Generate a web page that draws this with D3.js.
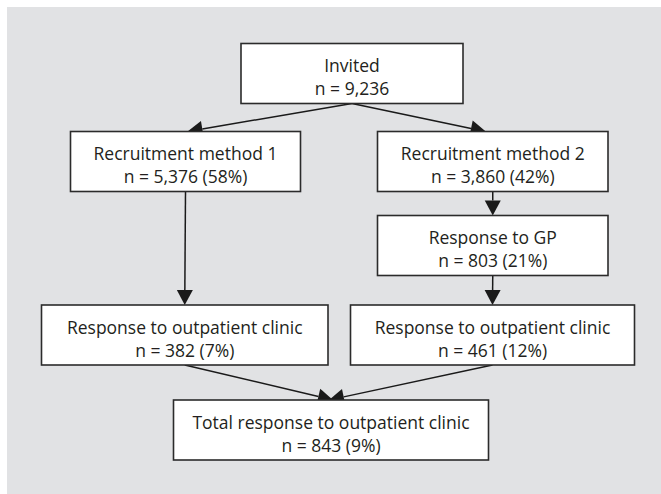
<!DOCTYPE html>
<html>
<head>
<meta charset="utf-8">
<script src="https://cdn.jsdelivr.net/npm/d3@7"></script>
<style>
  html, body { margin: 0; padding: 0; background: #fff; }
  svg { display: block; }
  .box { fill: #fff; stroke: #2b2b2b; stroke-width: 1.6; }
  .lbl { font-family: "Open Sans", sans-serif; font-size: 17.5px; fill: #231f20; text-anchor: middle; }
  .link { stroke: #1a1a1a; stroke-width: 1.5; fill: none; }
  .head { fill: #1a1a1a; }
</style>
</head>
<body>
<svg id="chart" width="661" height="494"></svg>
<script>
// Flow data
const nodeIds = ['invited', 'rec1', 'rec2', 'gp', 'out1', 'out2', 'total'];
const nodeTitles = ['Invited', 'Recruitment method 1', 'Recruitment method 2', 'Response to GP',
  'Response to outpatient clinic', 'Response to outpatient clinic', 'Total response to outpatient clinic'];
const nodeCounts = ['9,236', '5,376', '3,860', '803', '382', '461', '843'];
const nodePercents = [null, '58%', '42%', '21%', '7%', '12%', '9%'];
const links = [
  ['invited', 'rec1'], ['invited', 'rec2'], ['rec1', 'out1'], ['rec2', 'gp'],
  ['gp', 'out2'], ['out1', 'total'], ['out2', 'total'],
];

// Layout (pixels), kept apart from the data
const W = 661, H = 494;
const rowScale = d3.scaleOrdinal().domain([0, 1, 2, 3, 4]).range([43.5, 131.5, 215.5, 305, 400]);
const boxH = 60;
const layout = {
  invited: { row: 0, x0: 241, x1: 463 },
  rec1: { row: 1, x0: 70.5, x1: 300.5 },
  rec2: { row: 1, x0: 377.5, x1: 608 },
  gp: { row: 2, x0: 377.5, x1: 608 },
  out1: { row: 3, x0: 41.5, x1: 328 },
  out2: { row: 3, x0: 350.5, x1: 634.5 },
  total: { row: 4, x0: 173.5, x1: 488.5 },
};
// where a link lands on the target box (x offset from target centre)
const landing = { 'invited-rec1': 2, 'invited-rec2': -7, 'out1-total': 2, 'out2-total': -2 };

const svg = d3.select('#chart');
svg.append('rect').attr('x', 7).attr('y', 7).attr('width', W - 7).attr('height', H - 7).attr('fill', '#e1e2e4');

const nodes = nodeIds.map((id, i) => {
  const l = layout[id];
  const y = rowScale(l.row);
  return {
    id, title: nodeTitles[i],
    sub: 'n = ' + nodeCounts[i] + (nodePercents[i] ? ' (' + nodePercents[i] + ')' : ''),
    x0: l.x0, x1: l.x1, y0: y, y1: y + boxH, cx: (l.x0 + l.x1) / 2,
  };
});
const byId = new Map(nodes.map((d) => [d.id, d]));

// links with arrowheads
const headLen = 15, headHalf = 8;
const linkGrp = svg.append('g');
links.forEach(([s, t]) => {
  const a = byId.get(s), b = byId.get(t);
  const x1 = a.cx, y1 = a.y1;
  const x2 = b.cx + (landing[s + '-' + t] || 0), y2 = b.y0;
  const ang = Math.atan2(y2 - y1, x2 - x1);
  const bx = x2 - headLen * Math.cos(ang), by = y2 - headLen * Math.sin(ang);
  linkGrp.append('line').attr('class', 'link')
    .attr('x1', x1).attr('y1', y1).attr('x2', bx).attr('y2', by);
  const px = -Math.sin(ang) * headHalf, py = Math.cos(ang) * headHalf;
  linkGrp.append('path').attr('class', 'head')
    .attr('d', d3.line()([[x2, y2], [bx + px, by + py], [bx - px, by - py]]) + 'Z');
});

// boxes
const g = svg.append('g').selectAll('g').data(nodes).join('g');
g.append('rect').attr('class', 'box')
  .attr('x', (d) => d.x0).attr('y', (d) => d.y0)
  .attr('width', (d) => d.x1 - d.x0).attr('height', (d) => d.y1 - d.y0);
g.append('text').attr('class', 'lbl')
  .attr('x', (d) => d.cx).attr('y', (d) => d.y0 + 28.5)
  .text((d) => d.title);
g.append('text').attr('class', 'lbl')
  .attr('x', (d) => d.cx).attr('y', (d) => d.y0 + 51.5)
  .text((d) => d.sub);
</script>
</body>
</html>
